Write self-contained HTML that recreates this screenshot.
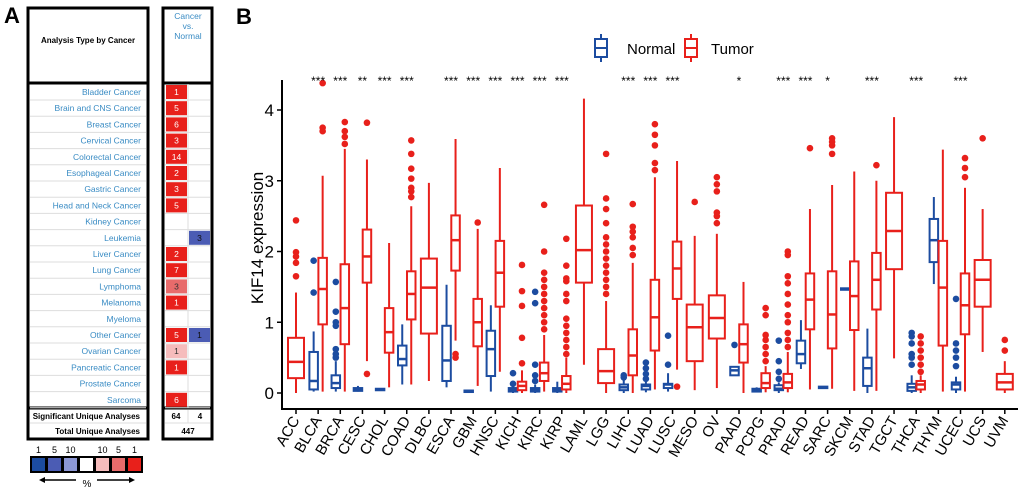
<!DOCTYPE html>
<html><head><meta charset="utf-8"><style>
body{margin:0;background:#fff;}
svg{display:block;font-family:"Liberation Sans",Arial,sans-serif;}
</style></head><body>
<svg id="fig" width="1020" height="491" viewBox="0 0 1020 491" xmlns="http://www.w3.org/2000/svg">
<g id="panelA">
<text x="4" y="23" font-size="22" font-weight="bold">A</text>
<rect x="28" y="8" width="120" height="431" fill="#fff" stroke="#000" stroke-width="3"/>
<line x1="28" y1="83" x2="148" y2="83" stroke="#000" stroke-width="3"/>
<line x1="28" y1="408" x2="148" y2="408" stroke="#000" stroke-width="3"/>
<text x="88" y="43" font-size="8" font-weight="bold" text-anchor="middle">Analysis Type by Cancer</text>
<rect x="163" y="8" width="49" height="431" fill="#fff" stroke="#000" stroke-width="3"/>
<line x1="163" y1="83" x2="212" y2="83" stroke="#000" stroke-width="3"/>
<line x1="163" y1="408" x2="212" y2="408" stroke="#000" stroke-width="3"/>
<text x="188" y="19" font-size="8.5" fill="#3a8cc4" text-anchor="middle"><tspan x="188">Cancer</tspan><tspan x="188" dy="10">vs.</tspan><tspan x="188" dy="10">Normal</tspan></text>
<g id="rowsA"></g>
<text x="140" y="419" font-size="8" font-weight="bold" text-anchor="end">Significant Unique Analyses</text>
<line x1="30" y1="423" x2="146" y2="423" stroke="#ddd" stroke-width="1"/>
<text x="140" y="434" font-size="8" font-weight="bold" text-anchor="end">Total Unique Analyses</text>
<text x="176" y="419" font-size="8" font-weight="bold" text-anchor="middle">64</text>
<text x="200" y="419" font-size="8" font-weight="bold" text-anchor="middle">4</text>
<line x1="188" y1="410" x2="188" y2="423" stroke="#ddd"/>
<line x1="165" y1="423" x2="210" y2="423" stroke="#ddd"/>
<text x="188" y="434" font-size="8" font-weight="bold" text-anchor="middle">447</text>
<g id="legendA"></g>
</g>
<g id="panelB">
<text x="236" y="24" font-size="22" font-weight="bold">B</text>
<g>
<line x1="601" y1="34" x2="601" y2="62" stroke="#1c4ca0" stroke-width="2"/>
<rect x="595" y="39" width="12" height="18" fill="#fff" stroke="#1c4ca0" stroke-width="2"/>
<line x1="595" y1="48" x2="607" y2="48" stroke="#1c4ca0" stroke-width="2"/>
<text x="627" y="54" font-size="15">Normal</text></g>
<g>
<line x1="691" y1="34" x2="691" y2="62" stroke="#e8201b" stroke-width="2"/>
<rect x="685" y="39" width="12" height="18" fill="#fff" stroke="#e8201b" stroke-width="2"/>
<line x1="685" y1="48" x2="697" y2="48" stroke="#e8201b" stroke-width="2"/>
<text x="711" y="54" font-size="15">Tumor</text></g>
<text transform="translate(263,238) rotate(-90)" font-size="17" text-anchor="middle">KIF14 expression</text>
<line x1="282" y1="80" x2="282" y2="409" stroke="#000" stroke-width="2"/>
<line x1="281" y1="409" x2="1018" y2="409" stroke="#000" stroke-width="2"/>
<g id="plot"></g>
</g>
</svg>
<script>
const NS="http://www.w3.org/2000/svg";
function mk(tag,attrs,parent,txt){const e=document.createElementNS(NS,tag);for(const k in attrs)e.setAttribute(k,attrs[k]);if(txt!==undefined)e.textContent=txt;parent.appendChild(e);return e;}

// ---- Panel A data ----
const cancerTypes=["Bladder Cancer","Brain and CNS Cancer","Breast Cancer","Cervical Cancer","Colorectal Cancer","Esophageal Cancer","Gastric Cancer","Head and Neck Cancer","Kidney Cancer","Leukemia","Liver Cancer","Lung Cancer","Lymphoma","Melanoma","Myeloma","Other Cancer","Ovarian Cancer","Pancreatic Cancer","Prostate Cancer","Sarcoma"];
const upCounts=[1,5,6,3,14,2,3,5,null,null,2,7,3,1,null,5,1,1,null,6];
const upColors=["#e8201b","#e8201b","#e8201b","#e8201b","#e8201b","#e8201b","#e8201b","#e8201b",null,null,"#e8201b","#e8201b","#e86b6b","#e8201b",null,"#e8201b","#f6bcbc","#e8201b",null,"#e8201b"];
const downCounts=[null,null,null,null,null,null,null,null,null,3,null,null,null,null,null,1,null,null,null,null];
const rowsA=document.getElementById('rowsA');
cancerTypes.forEach((c,i)=>{
  const cy=92+i*16.2;
  const sep=mk('line',{x1:30,y1:cy+8,x2:146,y2:cy+8,stroke:'#ddd','stroke-width':1},rowsA);
  const t=mk('text',{x:141,y:cy+3,'font-size':8.5,fill:'#3a8cc4','text-anchor':'end'},rowsA,c);
  
  
  mk('line',{x1:165,y1:cy+8,x2:210,y2:cy+8,stroke:'#ddd','stroke-width':1},rowsA);
  mk('line',{x1:188,y1:cy-8,x2:188,y2:cy+8,stroke:'#ddd','stroke-width':1},rowsA);
  if(upCounts[i]!==null){
    const r=mk('rect',{x:166,y:cy-7,width:21,height:14,fill:upColors[i]},rowsA);
    
    
    mk('text',{x:176.5,y:cy+3,'font-size':8.5,fill:upColors[i]==='#e8201b'?'#fff':'#333','text-anchor':'middle'},rowsA,String(upCounts[i]));
  }
  if(downCounts[i]!==null){
    const r=mk('rect',{x:189,y:cy-7,width:21,height:14,fill:'#4b5cb4'},rowsA);
    
    
    mk('text',{x:199.5,y:cy+3,'font-size':8.5,fill:'#111','text-anchor':'middle'},rowsA,String(downCounts[i]));
  }
});
const legCols=["#1c4ca0","#4b5cb4","#8c97d4","#ffffff","#f6bcbc","#e86b6b","#e8201b"];
const legLabels=["1","5","10","","10","5","1"];
const lg=document.getElementById('legendA');
mk('rect',{x:30,y:456,width:113,height:17,fill:'#000'},lg);
legCols.forEach((c,i)=>{
  const r=mk('rect',{x:32+i*16,y:458,width:13,height:13,fill:c},lg);
  
  
  mk('text',{x:38.5+i*16,y:453,'font-size':9,'text-anchor':'middle'},lg,legLabels[i]);
});
mk('line',{x1:42,y1:480,x2:76,y2:480,stroke:'#000','stroke-width':1.5},lg);
mk('polygon',{points:'39,480 45,477 45,483'},lg);
mk('line',{x1:97,y1:480,x2:132,y2:480,stroke:'#000','stroke-width':1.5},lg);
mk('polygon',{points:'135,480 129,477 129,483'},lg);
mk('text',{x:87,y:487,'font-size':10,'text-anchor':'middle'},lg,'%');

// ---- Panel B data ----
const categories=["ACC","BLCA","BRCA","CESC","CHOL","COAD","DLBC","ESCA","GBM","HNSC","KICH","KIRC","KIRP","LAML","LGG","LIHC","LUAD","LUSC","MESO","OV","PAAD","PCPG","PRAD","READ","SARC","SKCM","STAD","TGCT","THCA","THYM","UCEC","UCS","UVM"];
const significance=["","***","***","**","***","***","","***","***","***","***","***","***","","","***","***","***","","","*","","***","***","*","","***","","***","","***","",""];
// [lower whisker, Q1, median, Q3, upper whisker]
const normalStats=[null,[0.02,0.05,0.17,0.58,0.87],[0.02,0.07,0.14,0.25,0.45],[0.02,0.03,0.05,0.07,0.1],[0.03,0.04,0.05,0.06,0.07],[0.12,0.39,0.48,0.67,0.97],null,[0.08,0.17,0.46,0.95,1.53],[0.02,0.025,0.03,0.035,0.04],[0.02,0.24,0.62,0.88,1.24],[0,0.02,0.04,0.07,0.1],[0,0.02,0.04,0.07,0.12],[0,0.02,0.04,0.07,0.16],null,null,[0,0.04,0.08,0.12,0.2],[0.01,0.05,0.1,0.12,0.18],[0.02,0.07,0.12,0.13,0.28],null,null,[0.25,0.25,0.32,0.37,0.37],[0.01,0.02,0.04,0.06,0.08],[0,0.04,0.06,0.11,0.15],[0.34,0.42,0.55,0.74,1.03],[0.07,0.07,0.08,0.09,0.09],[1.46,1.46,1.47,1.48,1.48],[0,0.1,0.35,0.5,0.91],null,[0,0.03,0.08,0.13,0.25],[1.54,1.85,2.16,2.46,2.77],[0,0.05,0.12,0.15,0.23],null,null];
const tumorStats=[[0,0.21,0.44,0.78,1.42],[0.02,0.97,1.47,1.91,3.07],[0.02,0.69,1.2,1.82,3.45],[0.45,1.56,1.93,2.31,3.3],[0.08,0.57,0.86,1.2,2.12],[0.12,1.04,1.4,1.72,2.64],[0.17,0.84,1.49,1.9,2.97],[0.74,1.73,2.16,2.51,3.59],[0.1,0.66,1.0,1.33,2.32],[0.3,1.22,1.7,2.15,3.18],[0,0.04,0.1,0.16,0.32],[0.02,0.17,0.28,0.43,0.82],[0,0.05,0.13,0.24,0.5],[0.4,1.56,2.02,2.65,4.16],[0,0.14,0.31,0.62,1.3],[0,0.25,0.53,0.9,1.84],[0.05,0.6,1.07,1.6,3.05],[0.33,1.33,1.76,2.14,3.28],[0.04,0.45,0.93,1.25,2.22],[0.07,0.77,1.06,1.38,2.25],[0,0.43,0.69,0.97,1.57],[0.01,0.07,0.14,0.28,0.38],[0.01,0.07,0.15,0.27,0.58],[0.05,0.9,1.32,1.69,2.6],[0.06,0.63,1.11,1.72,2.94],[0.03,0.89,1.37,1.86,3.13],[0.03,1.18,1.6,1.98,3.0],[0.49,1.75,2.29,2.83,3.9],[0,0.05,0.12,0.17,0.25],[0.02,0.67,1.49,2.15,3.44],[0.02,0.83,1.24,1.69,2.9],[0.58,1.22,1.6,1.88,2.6],[0,0.05,0.15,0.27,0.45]];
const normalOutliers=[[],[1.42,1.87],[0.5,0.55,0.62,0.95,1.0,1.15,1.57],[],[],[],[],[],[],[],[0.13,0.28],[0.17,0.25,0.4,1.27,1.43],[],[],[],[0.22,0.25],[0.2,0.27,0.35,0.43],[0.4,0.81],[],[],[0.68],[],[0.2,0.3,0.45,0.74],[],[],[],[],[],[0.4,0.5,0.55,0.7,0.8,0.85],[],[0.38,0.5,0.6,0.7,1.33],[],[]];
const tumorOutliers=[[1.65,1.84,1.93,1.99,2.44],[3.7,3.75,4.38],[3.52,3.62,3.7,3.83],[0.27,3.82],[],[2.77,2.85,2.9,3.03,3.17,3.38,3.57],[],[0.5,0.55],[2.41],[],[0.42,0.78,1.23,1.44,1.81],[0.9,1.0,1.1,1.2,1.3,1.4,1.5,1.6,1.7,2.0,2.66],[0.55,0.65,0.75,0.85,0.95,1.05,1.3,1.4,1.58,1.62,1.8,2.18],[],[1.4,1.5,1.6,1.7,1.8,1.9,2.0,2.1,2.2,2.4,2.6,2.75,3.38],[1.95,2.05,2.2,2.28,2.35,2.67],[3.15,3.25,3.5,3.65,3.8],[0.09],[2.7],[2.4,2.5,2.55,2.85,2.95,3.05],[],[0.45,0.55,0.65,0.75,0.82,1.1,1.2],[0.65,0.75,0.85,1.0,1.1,1.25,1.4,1.55,1.65,1.95,2.0],[3.46],[3.38,3.5,3.55,3.6],[],[3.22],[],[0.3,0.4,0.5,0.6,0.7,0.8],[],[3.05,3.18,3.32],[3.6],[0.6,0.75]];
const yTicks=[0,1,2,3,4];

const xPos=i=>296+i*22.15;
const yPos=v=>393-70.75*v;
const RED="#e8201b",BLUE="#1c4ca0";
const plot=document.getElementById('plot');

yTicks.forEach(t=>{
  const y=yPos(t);
  mk('line',{x1:277,y1:y,x2:282,y2:y,stroke:'#000','stroke-width':1.5},plot);
  const tl=mk('text',{x:274,y:y+6,'font-size':17,'text-anchor':'end'},plot,String(t));
  
  
});

function drawBox(s,outs,cx,w,col,name){
  const g=mk('g',{},plot);
  
  
  mk('line',{x1:cx,y1:yPos(s[0]),x2:cx,y2:yPos(s[1]),stroke:col,'stroke-width':2},g);
  mk('line',{x1:cx,y1:yPos(s[3]),x2:cx,y2:yPos(s[4]),stroke:col,'stroke-width':2},g);
  const h=Math.max(yPos(s[1])-yPos(s[3]),1.5);
  mk('rect',{x:cx-w/2,y:yPos(s[3]),width:w,height:h,fill:'#fff',stroke:col,'stroke-width':2},g);
  mk('line',{x1:cx-w/2,y1:yPos(s[2]),x2:cx+w/2,y2:yPos(s[2]),stroke:col,'stroke-width':2.5},g);
  outs.forEach(v=>{mk('circle',{cx:cx,cy:yPos(v),r:3.3,fill:col},g);});
}

categories.forEach((c,i)=>{
  const cx=xPos(i);
  mk('line',{x1:cx,y1:409,x2:cx,y2:414,stroke:'#000','stroke-width':1.5},plot);
  const lab=mk('text',{transform:`translate(${cx+4},${420}) rotate(-60)`,'font-size':15,'text-anchor':'end'},plot,c);
  
  
  const n=normalStats[i],t=tumorStats[i];
  if(n&&t){
    drawBox(n,normalOutliers[i],cx-4.5,8.5,BLUE,'normal-box-'+c.toLowerCase());
    drawBox(t,tumorOutliers[i],cx+4.5,8.5,RED,'tumor-box-'+c.toLowerCase());
  }else if(t){
    drawBox(t,tumorOutliers[i],cx,16,RED,'tumor-box-'+c.toLowerCase());
  }
  if(significance[i]){
    const s=mk('text',{x:cx,y:85,'font-size':12,'text-anchor':'middle'},plot,significance[i]);
    
    
  }
});
</script>
</body></html>
